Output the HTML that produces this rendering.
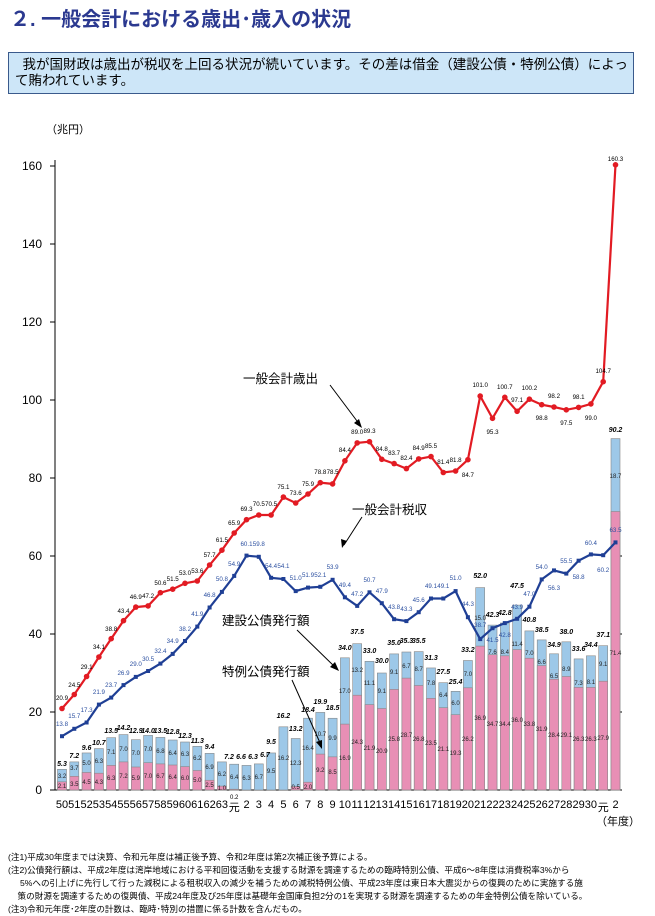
<!DOCTYPE html>
<html><head><meta charset="utf-8"><style>
body{margin:0;background:#fff;width:655px;height:913px;overflow:hidden;font-family:"Liberation Sans","Noto Sans CJK JP",sans-serif}
.t{position:absolute;left:10px;top:3px;font-size:20px;font-weight:bold;color:#2b3990;letter-spacing:0px}
.box{position:absolute;left:8px;top:52px;width:626px;height:42px;background:#cde6f8;border:1px solid #3a5a8c;font-size:13.5px;line-height:16px;padding:4px 0 0 6px;box-sizing:border-box;color:#000}
.notes{position:absolute;left:8px;top:851px;font-size:8.6px;line-height:13px;color:#000;white-space:nowrap}
svg{position:absolute;left:0;top:0}
</style></head><body>
<div class="t">２. 一般会計における歳出･歳入の状況</div>
<div class="box">&nbsp;&nbsp;我が国財政は歳出が税収を上回る状況が続いています。その差は借金（建設公債・特例公債）によって賄われています。</div>
<svg width="655" height="913" viewBox="0 0 655 913" font-family="Liberation Sans, Noto Sans CJK JP, sans-serif">
<text x="46" y="133" font-size="11">（兆円）</text>
<g font-size="12" text-anchor="end">
<text x="42" y="794">0</text><text x="42" y="716">20</text><text x="42" y="638">40</text><text x="42" y="560">60</text><text x="42" y="482">80</text><text x="42" y="404">100</text><text x="42" y="326">120</text><text x="42" y="248">140</text><text x="42" y="170">160</text>
</g>
<g stroke="#000" stroke-width="1">
<line x1="55" y1="160" x2="55" y2="790"/><line x1="55" y1="790" x2="622" y2="790"/>
<line x1="50" y1="712" x2="55" y2="712"/><line x1="50" y1="634" x2="55" y2="634"/><line x1="50" y1="556" x2="55" y2="556"/><line x1="50" y1="478" x2="55" y2="478"/><line x1="50" y1="400" x2="55" y2="400"/><line x1="50" y1="322" x2="55" y2="322"/><line x1="50" y1="244" x2="55" y2="244"/><line x1="50" y1="166" x2="55" y2="166"/>
<line x1="50" y1="790" x2="55" y2="790"/>
<line x1="618" y1="712" x2="622" y2="712"/><line x1="618" y1="634" x2="622" y2="634"/><line x1="618" y1="556" x2="622" y2="556"/>
</g>
<g stroke="#888" stroke-width="0.6" fill="#9dc8e8">
<rect x="57.5" y="769.3" width="9" height="20.7"/><rect x="69.8" y="761.9" width="9" height="28.1"/><rect x="82.1" y="752.95" width="9" height="37.05"/><rect x="94.4" y="748.6" width="9" height="41.4"/><rect x="106.7" y="737.7" width="9" height="52.3"/><rect x="119" y="734.6" width="9" height="55.4"/><rect x="131.3" y="739.7" width="9" height="50.3"/><rect x="143.6" y="735.4" width="9" height="54.6"/><rect x="155.9" y="737.4" width="9" height="52.6"/><rect x="168.2" y="740" width="9" height="50"/><rect x="180.5" y="742" width="9" height="48"/><rect x="192.8" y="746.3" width="9" height="43.7"/><rect x="205.1" y="753.35" width="9" height="36.65"/><rect x="217.4" y="761.9" width="9" height="28.1"/><rect x="229.7" y="764.2" width="9" height="25.8"/><rect x="242" y="765.4" width="9" height="24.6"/><rect x="254.3" y="763.9" width="9" height="26.1"/><rect x="266.6" y="752.95" width="9" height="37.05"/><rect x="278.9" y="726.8" width="9" height="63.2"/><rect x="291.2" y="738.5" width="9" height="51.5"/><rect x="303.5" y="718.2" width="9" height="71.8"/><rect x="315.8" y="712.4" width="9" height="77.6"/><rect x="328.1" y="718.25" width="9" height="71.75"/><rect x="340.4" y="657.8" width="9" height="132.2"/><rect x="352.7" y="643.7" width="9" height="146.3"/><rect x="365" y="661.3" width="9" height="128.7"/><rect x="377.3" y="673" width="9" height="117"/><rect x="389.6" y="653.9" width="9" height="136.1"/><rect x="401.9" y="652" width="9" height="138"/><rect x="414.2" y="651.6" width="9" height="138.4"/><rect x="426.5" y="667.95" width="9" height="122.05"/><rect x="438.8" y="682.7" width="9" height="107.3"/><rect x="451.1" y="691.3" width="9" height="98.7"/><rect x="463.4" y="660.5" width="9" height="129.5"/><rect x="475.7" y="587.6" width="9" height="202.4"/><rect x="488" y="625.1" width="9" height="164.9"/><rect x="500.3" y="623" width="9" height="167"/><rect x="512.6" y="605.1" width="9" height="184.9"/><rect x="524.9" y="630.9" width="9" height="159.1"/><rect x="537.2" y="639.9" width="9" height="150.1"/><rect x="549.5" y="653.8" width="9" height="136.2"/><rect x="561.8" y="641.8" width="9" height="148.2"/><rect x="574.1" y="658.9" width="9" height="131.1"/><rect x="586.4" y="655.8" width="9" height="134.2"/><rect x="598.7" y="645.7" width="9" height="144.3"/><rect x="611" y="438.6" width="9" height="351.4"/>
</g>
<g stroke="#888" stroke-width="0.6" fill="#e88fb5">
<rect x="57.5" y="781.8" width="9" height="8.2"/><rect x="69.8" y="776.3" width="9" height="13.7"/><rect x="82.1" y="772.45" width="9" height="17.55"/><rect x="94.4" y="773.2" width="9" height="16.8"/><rect x="106.7" y="765.4" width="9" height="24.6"/><rect x="119" y="761.9" width="9" height="28.1"/><rect x="131.3" y="767" width="9" height="23"/><rect x="143.6" y="762.7" width="9" height="27.3"/><rect x="155.9" y="763.9" width="9" height="26.1"/><rect x="168.2" y="765" width="9" height="25"/><rect x="180.5" y="766.6" width="9" height="23.4"/><rect x="192.8" y="770.5" width="9" height="19.5"/><rect x="205.1" y="780.25" width="9" height="9.75"/><rect x="217.4" y="786.1" width="9" height="3.9"/><rect x="229.7" y="789.2" width="9" height="0.8"/><rect x="291.2" y="786.5" width="9" height="3.5"/><rect x="303.5" y="782.2" width="9" height="7.8"/><rect x="315.8" y="754.1" width="9" height="35.9"/><rect x="328.1" y="756.85" width="9" height="33.15"/><rect x="340.4" y="724.1" width="9" height="65.9"/><rect x="352.7" y="695.2" width="9" height="94.8"/><rect x="365" y="704.6" width="9" height="85.4"/><rect x="377.3" y="708.5" width="9" height="81.5"/><rect x="389.6" y="689.4" width="9" height="100.6"/><rect x="401.9" y="678.1" width="9" height="111.9"/><rect x="414.2" y="685.5" width="9" height="104.5"/><rect x="426.5" y="698.35" width="9" height="91.65"/><rect x="438.8" y="707.7" width="9" height="82.3"/><rect x="451.1" y="714.7" width="9" height="75.3"/><rect x="463.4" y="687.8" width="9" height="102.2"/><rect x="475.7" y="646.1" width="9" height="143.9"/><rect x="488" y="654.7" width="9" height="135.3"/><rect x="500.3" y="655.8" width="9" height="134.2"/><rect x="512.6" y="649.6" width="9" height="140.4"/><rect x="524.9" y="658.2" width="9" height="131.8"/><rect x="537.2" y="665.6" width="9" height="124.4"/><rect x="549.5" y="679.2" width="9" height="110.8"/><rect x="561.8" y="676.5" width="9" height="113.5"/><rect x="574.1" y="687.4" width="9" height="102.6"/><rect x="586.4" y="687.4" width="9" height="102.6"/><rect x="598.7" y="681.2" width="9" height="108.8"/><rect x="611" y="511.5" width="9" height="278.5"/>
</g>
<g font-size="6" fill="#222" text-anchor="middle">
<text x="62" y="778">3.2</text><text x="62" y="788">2.1</text><text x="74.3" y="770">3.7</text><text x="74.3" y="786">3.5</text><text x="86.6" y="765">5.0</text><text x="86.6" y="784">4.5</text><text x="98.9" y="763">6.3</text><text x="98.9" y="784">4.3</text><text x="111.2" y="754">7.1</text><text x="111.2" y="780">6.3</text><text x="123.5" y="751">7.0</text><text x="123.5" y="778">7.2</text><text x="135.8" y="755">7.0</text><text x="135.8" y="780">5.9</text><text x="148.1" y="751">7.0</text><text x="148.1" y="778">7.0</text><text x="160.4" y="753">6.8</text><text x="160.4" y="778">6.7</text><text x="172.7" y="755">6.4</text><text x="172.7" y="779">6.4</text><text x="185" y="756">6.3</text><text x="185" y="780">6.0</text><text x="197.3" y="760">6.2</text><text x="197.3" y="782">5.0</text><text x="209.6" y="769">6.9</text><text x="209.6" y="787">2.5</text><text x="221.9" y="776">6.2</text><text x="221.9" y="790">1.0</text><text x="234.2" y="779">6.4</text><text x="246.5" y="780">6.3</text><text x="258.8" y="779">6.7</text><text x="271.1" y="773">9.5</text><text x="283.4" y="760">16.2</text><text x="295.7" y="765">12.3</text><text x="295.7" y="789">0.5</text><text x="308" y="750">16.4</text><text x="308" y="789">2.0</text><text x="320.3" y="736">10.7</text><text x="320.3" y="772">9.2</text><text x="332.6" y="740">9.9</text><text x="332.6" y="774">8.5</text>
<text x="344.9" y="693">17.0</text><text x="344.9" y="760">16.9</text><text x="357.2" y="672">13.2</text><text x="357.2" y="744">24.3</text><text x="369.5" y="685">11.1</text><text x="369.5" y="750">21.9</text><text x="381.8" y="693">9.1</text><text x="381.8" y="753">20.9</text><text x="394.1" y="674">9.1</text><text x="394.1" y="741">25.8</text><text x="406.4" y="668">6.7</text><text x="406.4" y="737">28.7</text><text x="418.7" y="671">8.7</text><text x="418.7" y="741">26.8</text><text x="431" y="685">7.8</text><text x="431" y="745">23.5</text><text x="443.3" y="697">6.4</text><text x="443.3" y="751">21.1</text><text x="455.6" y="705">6.0</text><text x="455.6" y="755">19.3</text><text x="467.9" y="676">7.0</text><text x="467.9" y="741">26.2</text><text x="480.2" y="620">15.0</text><text x="480.2" y="720">36.9</text><text x="492.5" y="654">7.6</text><text x="492.5" y="726">34.7</text><text x="504.8" y="654">8.4</text><text x="504.8" y="726">34.4</text><text x="517.1" y="646">11.4</text><text x="517.1" y="722">36.0</text><text x="529.4" y="655">7.0</text><text x="529.4" y="726">33.8</text><text x="541.7" y="664">6.6</text><text x="541.7" y="731">31.9</text><text x="554" y="678">6.5</text><text x="554" y="737">28.4</text><text x="566.3" y="671">8.9</text><text x="566.3" y="737">29.1</text><text x="578.6" y="685">7.3</text><text x="578.6" y="741">26.3</text><text x="590.9" y="684">8.1</text><text x="590.9" y="741">26.3</text><text x="603.2" y="666">9.1</text><text x="603.2" y="740">27.9</text><text x="615.5" y="478">18.7</text><text x="615.5" y="655">71.4</text>
</g>
<g font-size="7" font-weight="bold" font-style="italic" fill="#000" text-anchor="middle">
<text x="62" y="766">5.3</text><text x="74.3" y="758">7.2</text><text x="86.6" y="750">9.6</text><text x="98.9" y="745">10.7</text><text x="111.2" y="733">13.5</text><text x="123.5" y="730">14.2</text><text x="135.8" y="733">12.9</text><text x="148.1" y="733">14.0</text><text x="160.4" y="733">13.5</text><text x="172.7" y="734">12.8</text><text x="185" y="738">12.3</text><text x="197.3" y="743">11.3</text><text x="209.6" y="749">9.4</text><text x="229" y="759">7.2</text><text x="241" y="759">6.6</text><text x="253" y="759">6.3</text><text x="265" y="757">6.7</text><text x="271.1" y="744">9.5</text><text x="283.4" y="718">16.2</text><text x="295.7" y="731">13.2</text><text x="308" y="712">18.4</text><text x="320.3" y="704">19.9</text><text x="332.6" y="710">18.5</text><text x="344.9" y="650">34.0</text><text x="357.2" y="634">37.5</text><text x="369.5" y="653">33.0</text><text x="381.8" y="663">30.0</text><text x="394.1" y="645">35.0</text><text x="406.4" y="643">35.3</text><text x="418.7" y="643">35.5</text><text x="431" y="660">31.3</text><text x="443.3" y="674">27.5</text><text x="455.6" y="684">25.4</text><text x="467.9" y="652">33.2</text><text x="480.2" y="578">52.0</text><text x="492.5" y="617">42.3</text><text x="504.8" y="615">42.8</text><text x="517.1" y="588">47.5</text><text x="529.4" y="622">40.8</text><text x="541.7" y="632">38.5</text><text x="554" y="647">34.9</text><text x="566.3" y="634">38.0</text><text x="578.6" y="651">33.6</text><text x="590.9" y="647">34.4</text><text x="603.2" y="637">37.1</text><text x="615.5" y="432">90.2</text>
</g>
<polyline fill="none" stroke="#e21b23" stroke-width="2.2" points="62,708.5 74.3,694.5 86.6,676.5 98.9,657 111.2,638.7 123.5,620.7 135.8,607.1 148.1,605.9 160.4,592.7 172.7,589.2 185,583.3 197.3,581 209.6,565 221.9,550.2 234.2,533 246.5,519.7 258.8,515 271.1,515 283.4,497.1 295.7,503 308,494 320.3,482.7 332.6,483.9 344.9,460.8 357.2,442.9 369.5,441.7 381.8,459.3 394.1,463.6 406.4,468.6 418.7,458.9 431,456.6 443.3,472.5 455.6,471 467.9,459.7 480.2,396.1 492.5,418.3 504.8,397.3 517.1,411.3 529.4,399.2 541.7,404.7 554,407 566.3,409.8 578.6,407.4 590.9,403.9 603.2,381.7 615.5,164.8"/>
<g fill="#e21b23">
<circle cx="62" cy="708.5" r="2.8"/><circle cx="74.3" cy="694.5" r="2.8"/><circle cx="86.6" cy="676.5" r="2.8"/><circle cx="98.9" cy="657" r="2.8"/><circle cx="111.2" cy="638.7" r="2.8"/><circle cx="123.5" cy="620.7" r="2.8"/><circle cx="135.8" cy="607.1" r="2.8"/><circle cx="148.1" cy="605.9" r="2.8"/><circle cx="160.4" cy="592.7" r="2.8"/><circle cx="172.7" cy="589.2" r="2.8"/><circle cx="185" cy="583.3" r="2.8"/><circle cx="197.3" cy="581" r="2.8"/><circle cx="209.6" cy="565" r="2.8"/><circle cx="221.9" cy="550.2" r="2.8"/><circle cx="234.2" cy="533" r="2.8"/><circle cx="246.5" cy="519.7" r="2.8"/><circle cx="258.8" cy="515" r="2.8"/><circle cx="271.1" cy="515" r="2.8"/><circle cx="283.4" cy="497.1" r="2.8"/><circle cx="295.7" cy="503" r="2.8"/><circle cx="308" cy="494" r="2.8"/><circle cx="320.3" cy="482.7" r="2.8"/><circle cx="332.6" cy="483.9" r="2.8"/><circle cx="344.9" cy="460.8" r="2.8"/><circle cx="357.2" cy="442.9" r="2.8"/><circle cx="369.5" cy="441.7" r="2.8"/><circle cx="381.8" cy="459.3" r="2.8"/><circle cx="394.1" cy="463.6" r="2.8"/><circle cx="406.4" cy="468.6" r="2.8"/><circle cx="418.7" cy="458.9" r="2.8"/><circle cx="431" cy="456.6" r="2.8"/><circle cx="443.3" cy="472.5" r="2.8"/><circle cx="455.6" cy="471" r="2.8"/><circle cx="467.9" cy="459.7" r="2.8"/><circle cx="480.2" cy="396.1" r="2.8"/><circle cx="492.5" cy="418.3" r="2.8"/><circle cx="504.8" cy="397.3" r="2.8"/><circle cx="517.1" cy="411.3" r="2.8"/><circle cx="529.4" cy="399.2" r="2.8"/><circle cx="541.7" cy="404.7" r="2.8"/><circle cx="554" cy="407" r="2.8"/><circle cx="566.3" cy="409.8" r="2.8"/><circle cx="578.6" cy="407.4" r="2.8"/><circle cx="590.9" cy="403.9" r="2.8"/><circle cx="603.2" cy="381.7" r="2.8"/><circle cx="615.5" cy="164.8" r="2.8"/>
</g>
<polyline fill="none" stroke="#1f3f95" stroke-width="2.2" points="62,736.2 74.3,728.8 86.6,722.5 98.9,704.6 111.2,697.6 123.5,685.1 135.8,676.9 148.1,671 160.4,663.6 172.7,653.9 185,641 197.3,626.6 209.6,607.5 221.9,591.9 234.2,575.9 246.5,555.6 258.8,556.8 271.1,577.8 283.4,579 295.7,591.1 308,587.6 320.3,586.8 332.6,579.8 344.9,597.3 357.2,605.9 369.5,592.3 381.8,603.2 394.1,619.2 406.4,621.1 418.7,612.2 431,598.5 443.3,598.5 455.6,591.1 467.9,617.2 480.2,639.1 492.5,628.2 504.8,623.1 517.1,618.8 529.4,606.7 541.7,579.4 554,570.4 566.3,573.6 578.6,560.7 590.9,554.4 603.2,555.2 615.5,542.4"/>
<g fill="#1f3f95">
<rect x="60" y="734.2" width="4" height="4"/><rect x="72.3" y="726.8" width="4" height="4"/><rect x="84.6" y="720.5" width="4" height="4"/><rect x="96.9" y="702.6" width="4" height="4"/><rect x="109.2" y="695.6" width="4" height="4"/><rect x="121.5" y="683.1" width="4" height="4"/><rect x="133.8" y="674.9" width="4" height="4"/><rect x="146.1" y="669" width="4" height="4"/><rect x="158.4" y="661.6" width="4" height="4"/><rect x="170.7" y="651.9" width="4" height="4"/><rect x="183" y="639" width="4" height="4"/><rect x="195.3" y="624.6" width="4" height="4"/><rect x="207.6" y="605.5" width="4" height="4"/><rect x="219.9" y="589.9" width="4" height="4"/><rect x="232.2" y="573.9" width="4" height="4"/><rect x="244.5" y="553.6" width="4" height="4"/><rect x="256.8" y="554.8" width="4" height="4"/><rect x="269.1" y="575.8" width="4" height="4"/><rect x="281.4" y="577" width="4" height="4"/><rect x="293.7" y="589.1" width="4" height="4"/><rect x="306" y="585.6" width="4" height="4"/><rect x="318.3" y="584.8" width="4" height="4"/><rect x="330.6" y="577.8" width="4" height="4"/><rect x="342.9" y="595.3" width="4" height="4"/><rect x="355.2" y="603.9" width="4" height="4"/><rect x="367.5" y="590.3" width="4" height="4"/><rect x="379.8" y="601.2" width="4" height="4"/><rect x="392.1" y="617.2" width="4" height="4"/><rect x="404.4" y="619.1" width="4" height="4"/><rect x="416.7" y="610.2" width="4" height="4"/><rect x="429" y="596.5" width="4" height="4"/><rect x="441.3" y="596.5" width="4" height="4"/><rect x="453.6" y="589.1" width="4" height="4"/><rect x="465.9" y="615.2" width="4" height="4"/><rect x="478.2" y="637.1" width="4" height="4"/><rect x="490.5" y="626.2" width="4" height="4"/><rect x="502.8" y="621.1" width="4" height="4"/><rect x="515.1" y="616.8" width="4" height="4"/><rect x="527.4" y="604.7" width="4" height="4"/><rect x="539.7" y="577.4" width="4" height="4"/><rect x="552" y="568.4" width="4" height="4"/><rect x="564.3" y="571.6" width="4" height="4"/><rect x="576.6" y="558.7" width="4" height="4"/><rect x="588.9" y="552.4" width="4" height="4"/><rect x="601.2" y="553.2" width="4" height="4"/><rect x="613.5" y="540.4" width="4" height="4"/>
</g>
<g font-size="6.2" fill="#000" text-anchor="middle">
<text x="62" y="700">20.9</text><text x="74.3" y="687">24.5</text><text x="86.6" y="669">29.1</text><text x="98.9" y="649">34.1</text><text x="111.2" y="631">38.8</text><text x="123.5" y="613">43.4</text><text x="135.8" y="599">46.9</text><text x="148.1" y="598">47.2</text><text x="160.4" y="585">50.6</text><text x="172.7" y="581">51.5</text><text x="185" y="575">53.0</text><text x="197.3" y="573">53.6</text><text x="209.6" y="557">57.7</text><text x="221.9" y="542">61.5</text><text x="234.2" y="525">65.9</text><text x="246.5" y="511">69.3</text><text x="258.8" y="506">70.5</text><text x="271.1" y="506">70.5</text><text x="283.4" y="489">75.1</text><text x="295.7" y="495">73.6</text><text x="308" y="486">75.9</text><text x="320.3" y="474">78.8</text><text x="332.6" y="474">78.5</text><text x="344.9" y="452">84.4</text><text x="357.2" y="434">89.0</text><text x="369.5" y="433">89.3</text><text x="381.8" y="451">84.8</text><text x="394.1" y="455">83.7</text><text x="406.4" y="460">82.4</text><text x="418.7" y="450">84.9</text><text x="431" y="448">85.5</text><text x="443.3" y="464">81.4</text><text x="455.6" y="462">81.8</text><text x="467.9" y="477">84.7</text><text x="480.2" y="387">101.0</text><text x="492.5" y="434">95.3</text><text x="504.8" y="389">100.7</text><text x="517.1" y="402">97.1</text><text x="529.4" y="390">100.2</text><text x="541.7" y="420">98.8</text><text x="554" y="398">98.2</text><text x="566.3" y="425">97.5</text><text x="578.6" y="399">98.1</text><text x="590.9" y="420">99.0</text><text x="603.2" y="373">104.7</text><text x="615.5" y="161">160.3</text>
</g>
<g font-size="6.2" fill="#2b4fa0" text-anchor="middle">
<text x="62" y="726">13.8</text><text x="74.3" y="718">15.7</text><text x="86.6" y="712">17.3</text><text x="98.9" y="694">21.9</text><text x="111.2" y="687">23.7</text><text x="123.5" y="675">26.9</text><text x="135.8" y="666">29.0</text><text x="148.1" y="661">30.5</text><text x="160.4" y="653">32.4</text><text x="172.7" y="643">34.9</text><text x="185" y="631">38.2</text><text x="197.3" y="616">41.9</text><text x="209.6" y="597">46.8</text><text x="221.9" y="581">50.8</text><text x="234.2" y="566">54.9</text><text x="246.5" y="546">60.1</text><text x="258.8" y="546">59.8</text><text x="271.1" y="568">54.4</text><text x="283.4" y="568">54.1</text><text x="295.7" y="580">51.0</text><text x="308" y="577">51.9</text><text x="320.3" y="577">52.1</text><text x="332.6" y="569">53.9</text><text x="344.9" y="587">49.4</text><text x="357.2" y="596">47.2</text><text x="369.5" y="582">50.7</text><text x="381.8" y="593">47.9</text><text x="394.1" y="609">43.8</text><text x="406.4" y="611">43.3</text><text x="418.7" y="602">45.6</text><text x="431" y="588">49.1</text><text x="443.3" y="588">49.1</text><text x="455.6" y="580">51.0</text><text x="467.9" y="606">44.3</text><text x="480.2" y="627">38.7</text><text x="492.5" y="642">41.5</text><text x="504.8" y="637">42.8</text><text x="517.1" y="609">43.9</text><text x="529.4" y="596">47.0</text><text x="541.7" y="569">54.0</text><text x="554" y="590">56.3</text><text x="566.3" y="563">55.5</text><text x="578.6" y="579">58.8</text><text x="590.9" y="545">60.4</text><text x="603.2" y="572">60.2</text><text x="615.5" y="532">63.5</text>
</g>
<g font-size="12.5" fill="#000">
<text x="243" y="383">一般会計歳出</text>
<text x="352" y="514">一般会計税収</text>
<text x="222" y="625">建設公債発行額</text>
<text x="222" y="676">特例公債発行額</text>
</g>
<g stroke="#000" stroke-width="1">
<line x1="330" y1="385" x2="360" y2="425"/><line x1="362" y1="517" x2="344" y2="545"/><line x1="297" y1="630" x2="336" y2="668"/><line x1="292" y1="680" x2="321" y2="745"/>
</g>
<g fill="#000">
<polygon points="362,428 354,423 359,419"/><polygon points="342,548 341,539 347,541"/><polygon points="339,671 330,667 335,662"/><polygon points="322,749 316,742 322,740"/>
</g>
<g font-size="11" text-anchor="middle" fill="#000">
<text x="62" y="808">50</text><text x="74.3" y="808">51</text><text x="86.6" y="808">52</text><text x="98.9" y="808">53</text><text x="111.2" y="808">54</text><text x="123.5" y="808">55</text><text x="135.8" y="808">56</text><text x="148.1" y="808">57</text><text x="160.4" y="808">58</text><text x="172.7" y="808">59</text><text x="185" y="808">60</text><text x="197.3" y="808">61</text><text x="209.6" y="808">62</text><text x="221.9" y="808">63</text><text x="234.2" y="811">元</text><text x="246.5" y="808">2</text><text x="258.8" y="808">3</text><text x="271.1" y="808">4</text><text x="283.4" y="808">5</text><text x="295.7" y="808">6</text><text x="308" y="808">7</text><text x="320.3" y="808">8</text><text x="332.6" y="808">9</text><text x="344.9" y="808">10</text><text x="357.2" y="808">11</text><text x="369.5" y="808">12</text><text x="381.8" y="808">13</text><text x="394.1" y="808">14</text><text x="406.4" y="808">15</text><text x="418.7" y="808">16</text><text x="431" y="808">17</text><text x="443.3" y="808">18</text><text x="455.6" y="808">19</text><text x="467.9" y="808">20</text><text x="480.2" y="808">21</text><text x="492.5" y="808">22</text><text x="504.8" y="808">23</text><text x="517.1" y="808">24</text><text x="529.4" y="808">25</text><text x="541.7" y="808">26</text><text x="554" y="808">27</text><text x="566.3" y="808">28</text><text x="578.6" y="808">29</text><text x="590.9" y="808">30</text><text x="603.2" y="811">元</text><text x="615.5" y="808">2</text>
</g>
<text x="234.2" y="799" font-size="6" text-anchor="middle">0.2</text>
<text x="596" y="825" font-size="11">（年度）</text>
</svg>
<div class="notes">(注1)平成30年度までは決算、令和元年度は補正後予算、令和2年度は第2次補正後予算による。<br>(注2)公債発行額は、平成2年度は湾岸地域における平和回復活動を支援する財源を調達するための臨時特別公債、平成6～8年度は消費税率3%から<br>&nbsp;&nbsp;&nbsp;&nbsp;&nbsp;5%への引上げに先行して行った減税による租税収入の減少を補うための減税特例公債、平成23年度は東日本大震災からの復興のために実施する施<br>&nbsp;&nbsp;&nbsp;&nbsp;策の財源を調達するための復興債、平成24年度及び25年度は基礎年金国庫負担2分の1を実現する財源を調達するための年金特例公債を除いている。<br>(注3)令和元年度･2年度の計数は、臨時･特別の措置に係る計数を含んだもの。</div>
</body></html>
